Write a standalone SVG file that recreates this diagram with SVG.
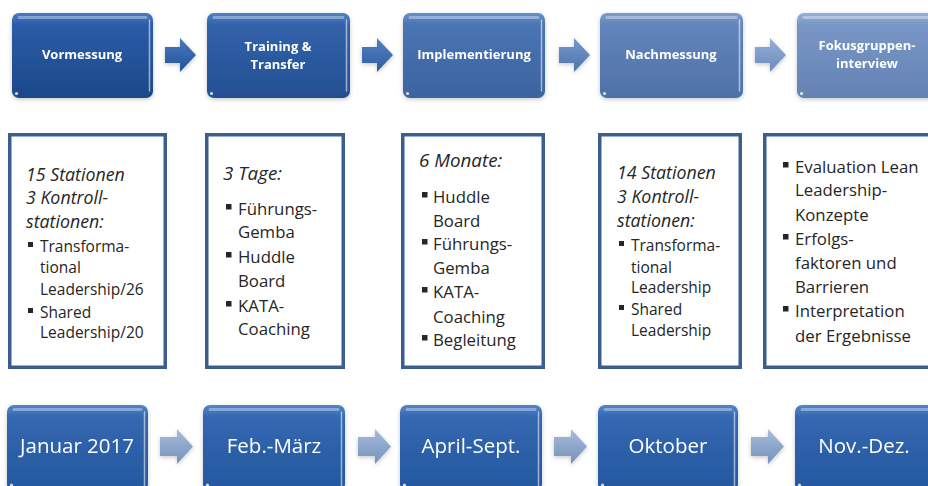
<svg xmlns="http://www.w3.org/2000/svg" width="928" height="486" viewBox="0 0 928 486">
  <style>
    .phase { font-family: "Open Sans", "Liberation Sans", sans-serif; font-weight: bold; font-size: 13px; fill: #ffffff; text-anchor: middle; }
    .date { font-family: "Open Sans", "Liberation Sans", sans-serif; font-size: 20.5px; fill: #ffffff; text-anchor: middle; }
    .card { fill: #ffffff; stroke: #3a5f8f; stroke-width: 3.5; }
    .txt { font-family: "Open Sans", "Liberation Sans", sans-serif; fill: #262626; }
    .s { font-size: 15.5px; }
    .l { font-size: 16.8px; }
    .si { font-size: 17.8px; font-style: italic; }
    .li { font-size: 18.8px; font-style: italic; }
    .b { fill: #262626; }
    .gloss { fill: none; stroke: #ffffff; stroke-opacity: 0.35; stroke-width: 3; stroke-linecap: round; }
    .edge { fill: none; stroke: #ffffff; stroke-opacity: 0.55; stroke-width: 1.5; stroke-linecap: round; }
    .dot { fill: #ffffff; fill-opacity: 0.8; }
  </style>
  <defs>
    <filter id="soft" x="-10%" y="-10%" width="120%" height="125%">
      <feDropShadow dx="0" dy="1.5" stdDeviation="2" flood-color="#000000" flood-opacity="0.22"/>
    </filter>
    <linearGradient id="g1" x1="0" y1="0" x2="0" y2="1">
      <stop offset="0" stop-color="#4a7bc1"/><stop offset="0.14" stop-color="#2b5ca7"/><stop offset="1" stop-color="#1c4889"/>
    </linearGradient>
    <linearGradient id="g2" x1="0" y1="0" x2="0" y2="1">
      <stop offset="0" stop-color="#5082c4"/><stop offset="0.14" stop-color="#3262aa"/><stop offset="1" stop-color="#244f92"/>
    </linearGradient>
    <linearGradient id="g3" x1="0" y1="0" x2="0" y2="1">
      <stop offset="0" stop-color="#6890c9"/><stop offset="0.14" stop-color="#4a74b3"/><stop offset="1" stop-color="#3b63a0"/>
    </linearGradient>
    <linearGradient id="g4" x1="0" y1="0" x2="0" y2="1">
      <stop offset="0" stop-color="#7f9dcd"/><stop offset="0.14" stop-color="#6285bb"/><stop offset="1" stop-color="#4e71a7"/>
    </linearGradient>
    <linearGradient id="g5" x1="0" y1="0" x2="0" y2="1">
      <stop offset="0" stop-color="#97b0d6"/><stop offset="0.14" stop-color="#7896c5"/><stop offset="1" stop-color="#6482b4"/>
    </linearGradient>
    <linearGradient id="gd" x1="0" y1="0" x2="0" y2="1">
      <stop offset="0" stop-color="#5286c9"/><stop offset="0.14" stop-color="#3468b1"/><stop offset="1" stop-color="#23579e"/>
    </linearGradient>
    <linearGradient id="ga1" x1="0" y1="0" x2="0" y2="1">
      <stop offset="0" stop-color="#4a79bd"/><stop offset="1" stop-color="#24529a"/>
    </linearGradient>
    <linearGradient id="ga2" x1="0" y1="0" x2="0" y2="1">
      <stop offset="0" stop-color="#5382c2"/><stop offset="1" stop-color="#2f5ca2"/>
    </linearGradient>
    <linearGradient id="ga3" x1="0" y1="0" x2="0" y2="1">
      <stop offset="0" stop-color="#7597cc"/><stop offset="1" stop-color="#4f74ad"/>
    </linearGradient>
    <linearGradient id="ga4" x1="0" y1="0" x2="0" y2="1">
      <stop offset="0" stop-color="#94afd6"/><stop offset="1" stop-color="#6b8bbd"/>
    </linearGradient>
    <linearGradient id="gab" x1="0" y1="0" x2="0" y2="1">
      <stop offset="0" stop-color="#a9bddb"/><stop offset="0.5" stop-color="#8ca6cb"/><stop offset="1" stop-color="#7792bc"/>
    </linearGradient>
    <!-- block arrow, origin at left end of the shaft centre line -->
    <path id="arrowTop" d="M0,-8 H15 V-17 L31,0 L15,17 V8 H0 Z"/>
    <path id="arrowBottom" d="M0,-9.5 H17 V-17.5 L33,0 L17,17.5 V9.5 H0 Z"/>
  </defs>

  <!-- top row: project phases -->
  <g id="phase-vormessung" filter="url(#soft)">
    <rect x="12" y="13" width="141" height="85" rx="7" fill="url(#g1)"/>
    <line class="gloss" x1="19" y1="17.5" x2="146" y2="17.5"/>
    <line class="edge" x1="149.5" y1="20" x2="149.5" y2="91"/>
    <circle class="dot" cx="16.5" cy="93.5" r="1.6"/>
    <text class="phase" x="82" y="59">Vormessung</text>
  </g>
  <g id="phase-training" filter="url(#soft)">
    <rect x="207" y="13" width="143" height="85" rx="7" fill="url(#g2)"/>
    <line class="gloss" x1="214" y1="17.5" x2="343" y2="17.5"/>
    <line class="edge" x1="346.5" y1="20" x2="346.5" y2="91"/>
    <circle class="dot" cx="211.5" cy="93.5" r="1.6"/>
    <text class="phase" x="278" y="51">Training &amp;</text>
    <text class="phase" x="278" y="69">Transfer</text>
  </g>
  <g id="phase-implementierung" filter="url(#soft)">
    <rect x="403" y="13" width="142" height="85" rx="7" fill="url(#g3)"/>
    <line class="gloss" x1="410" y1="17.5" x2="538" y2="17.5"/>
    <line class="edge" x1="541.5" y1="20" x2="541.5" y2="91"/>
    <circle class="dot" cx="407.5" cy="93.5" r="1.6"/>
    <text class="phase" x="474" y="59">Implementierung</text>
  </g>
  <g id="phase-nachmessung" filter="url(#soft)">
    <rect x="600" y="13" width="143" height="85" rx="7" fill="url(#g4)"/>
    <line class="gloss" x1="607" y1="17.5" x2="736" y2="17.5"/>
    <line class="edge" x1="739.5" y1="20" x2="739.5" y2="91"/>
    <circle class="dot" cx="604.5" cy="93.5" r="1.6"/>
    <text class="phase" x="671" y="59">Nachmessung</text>
  </g>
  <g id="phase-fokusgruppen" filter="url(#soft)">
    <rect x="797" y="13" width="141" height="85" rx="7" fill="url(#g5)"/>
    <line class="gloss" x1="804" y1="17.5" x2="931" y2="17.5"/>
    <circle class="dot" cx="801.5" cy="93.5" r="1.6"/>
    <text class="phase" x="867" y="50">Fokusgruppen-</text>
    <text class="phase" x="867" y="68">interview</text>
  </g>

  <!-- middle row: content of each phase -->
  <g id="detail-vormessung">
    <rect class="card" x="9.75" y="134.75" width="155.5" height="232.5"/>
    <text class="txt si" x="26" y="181">15 Stationen</text>
    <text class="txt si" x="26" y="204">3 Kontroll-</text>
    <text class="txt si" x="26" y="228">stationen:</text>
    <rect class="b" x="28" y="242" width="5" height="5"/>
    <text class="txt s" x="40" y="252">Transforma-</text>
    <text class="txt s" x="40" y="273">tional</text>
    <text class="txt s" x="40" y="295">Leadership/26</text>
    <rect class="b" x="28" y="308" width="5" height="5"/>
    <text class="txt s" x="40" y="318">Shared</text>
    <text class="txt s" x="40" y="338">Leadership/20</text>
  </g>
  <g id="detail-training">
    <rect class="card" x="206.75" y="134.75" width="136.5" height="232.5"/>
    <text class="txt li" x="223" y="180">3 Tage:</text>
    <rect class="b" x="226" y="204" width="5.5" height="5.5"/>
    <text class="txt l" x="238" y="215">Führungs-</text>
    <text class="txt l" x="238" y="238">Gemba</text>
    <rect class="b" x="226" y="252" width="5.5" height="5.5"/>
    <text class="txt l" x="238" y="263">Huddle</text>
    <text class="txt l" x="238" y="287">Board</text>
    <rect class="b" x="226" y="301" width="5.5" height="5.5"/>
    <text class="txt l" x="238" y="312">KATA-</text>
    <text class="txt l" x="238" y="335">Coaching</text>
  </g>
  <g id="detail-implementierung">
    <rect class="card" x="402.75" y="134.75" width="140.5" height="232.5"/>
    <text class="txt li" x="419" y="167">6 Monate:</text>
    <rect class="b" x="422" y="192" width="5.5" height="5.5"/>
    <text class="txt l" x="433" y="203">Huddle</text>
    <text class="txt l" x="433" y="227">Board</text>
    <rect class="b" x="422" y="239" width="5.5" height="5.5"/>
    <text class="txt l" x="433" y="250">Führungs-</text>
    <text class="txt l" x="433" y="274">Gemba</text>
    <rect class="b" x="422" y="287" width="5.5" height="5.5"/>
    <text class="txt l" x="433" y="298">KATA-</text>
    <text class="txt l" x="433" y="323">Coaching</text>
    <rect class="b" x="422" y="335" width="5.5" height="5.5"/>
    <text class="txt l" x="433" y="346">Begleitung</text>
  </g>
  <g id="detail-nachmessung">
    <rect class="card" x="599.75" y="134.75" width="140.5" height="232.5"/>
    <text class="txt si" x="617" y="179">14 Stationen</text>
    <text class="txt si" x="617" y="203">3 Kontroll-</text>
    <text class="txt si" x="617" y="227">stationen:</text>
    <rect class="b" x="619" y="241" width="5" height="5"/>
    <text class="txt s" x="631" y="251">Transforma-</text>
    <text class="txt s" x="631" y="273">tional</text>
    <text class="txt s" x="631" y="293">Leadership</text>
    <rect class="b" x="619" y="305" width="5" height="5"/>
    <text class="txt s" x="631" y="315">Shared</text>
    <text class="txt s" x="631" y="336">Leadership</text>
  </g>
  <g id="detail-fokusgruppen">
    <rect class="card" x="764.75" y="134.75" width="200" height="232.5"/>
    <rect class="b" x="783" y="162" width="5.5" height="5.5"/>
    <text class="txt l" x="795" y="173">Evaluation Lean</text>
    <text class="txt l" x="795" y="196">Leadership-</text>
    <text class="txt l" x="795" y="221">Konzepte</text>
    <rect class="b" x="783" y="234" width="5.5" height="5.5"/>
    <text class="txt l" x="795" y="245">Erfolgs-</text>
    <text class="txt l" x="795" y="269">faktoren und</text>
    <text class="txt l" x="795" y="293">Barrieren</text>
    <rect class="b" x="783" y="306" width="5.5" height="5.5"/>
    <text class="txt l" x="795" y="317">Interpretation</text>
    <text class="txt l" x="795" y="342">der Ergebnisse</text>
  </g>

  <!-- bottom row: time frame -->
  <g id="date-januar" filter="url(#soft)">
    <rect x="7" y="405" width="141" height="86" rx="7" fill="url(#gd)"/>
    <line class="gloss" x1="14" y1="409.5" x2="141" y2="409.5"/>
    <line class="edge" x1="144.5" y1="412" x2="144.5" y2="486"/>
    <circle class="dot" cx="11.5" cy="485" r="1.6"/>
    <text class="date" x="77" y="453">Januar 2017</text>
  </g>
  <g id="date-feb-maerz" filter="url(#soft)">
    <rect x="203" y="405" width="142" height="86" rx="7" fill="url(#gd)"/>
    <line class="gloss" x1="210" y1="409.5" x2="338" y2="409.5"/>
    <line class="edge" x1="341.5" y1="412" x2="341.5" y2="486"/>
    <circle class="dot" cx="207.5" cy="485" r="1.6"/>
    <text class="date" x="274" y="453">Feb.-März</text>
  </g>
  <g id="date-april-sept" filter="url(#soft)">
    <rect x="400" y="405" width="142" height="86" rx="7" fill="url(#gd)"/>
    <line class="gloss" x1="407" y1="409.5" x2="535" y2="409.5"/>
    <line class="edge" x1="538.5" y1="412" x2="538.5" y2="486"/>
    <circle class="dot" cx="404.5" cy="485" r="1.6"/>
    <text class="date" x="471" y="453">April-Sept.</text>
  </g>
  <g id="date-oktober" filter="url(#soft)">
    <rect x="598" y="405" width="140" height="86" rx="7" fill="url(#gd)"/>
    <line class="gloss" x1="605" y1="409.5" x2="731" y2="409.5"/>
    <line class="edge" x1="734.5" y1="412" x2="734.5" y2="486"/>
    <circle class="dot" cx="602.5" cy="485" r="1.6"/>
    <text class="date" x="668" y="453">Oktober</text>
  </g>
  <g id="date-nov-dez" filter="url(#soft)">
    <rect x="795" y="405" width="141" height="86" rx="7" fill="url(#gd)"/>
    <line class="gloss" x1="802" y1="409.5" x2="930" y2="409.5"/>
    <circle class="dot" cx="799.5" cy="485" r="1.6"/>
    <text class="date" x="864" y="453">Nov.-Dez.</text>
  </g>

  <!-- connectors: block arrows between phases and between dates -->
  <g id="connectors" filter="url(#soft)">
    <use href="#arrowTop" transform="translate(165,55)" fill="url(#ga1)"/>
    <use href="#arrowTop" transform="translate(362,55)" fill="url(#ga2)"/>
    <use href="#arrowTop" transform="translate(559,55)" fill="url(#ga3)"/>
    <use href="#arrowTop" transform="translate(755,55)" fill="url(#ga4)"/>
    <use href="#arrowBottom" transform="translate(160,446.5)" fill="url(#gab)"/>
    <use href="#arrowBottom" transform="translate(358,446.5)" fill="url(#gab)"/>
    <use href="#arrowBottom" transform="translate(554,446.5)" fill="url(#gab)"/>
    <use href="#arrowBottom" transform="translate(751,446.5)" fill="url(#gab)"/>
  </g>
</svg>
